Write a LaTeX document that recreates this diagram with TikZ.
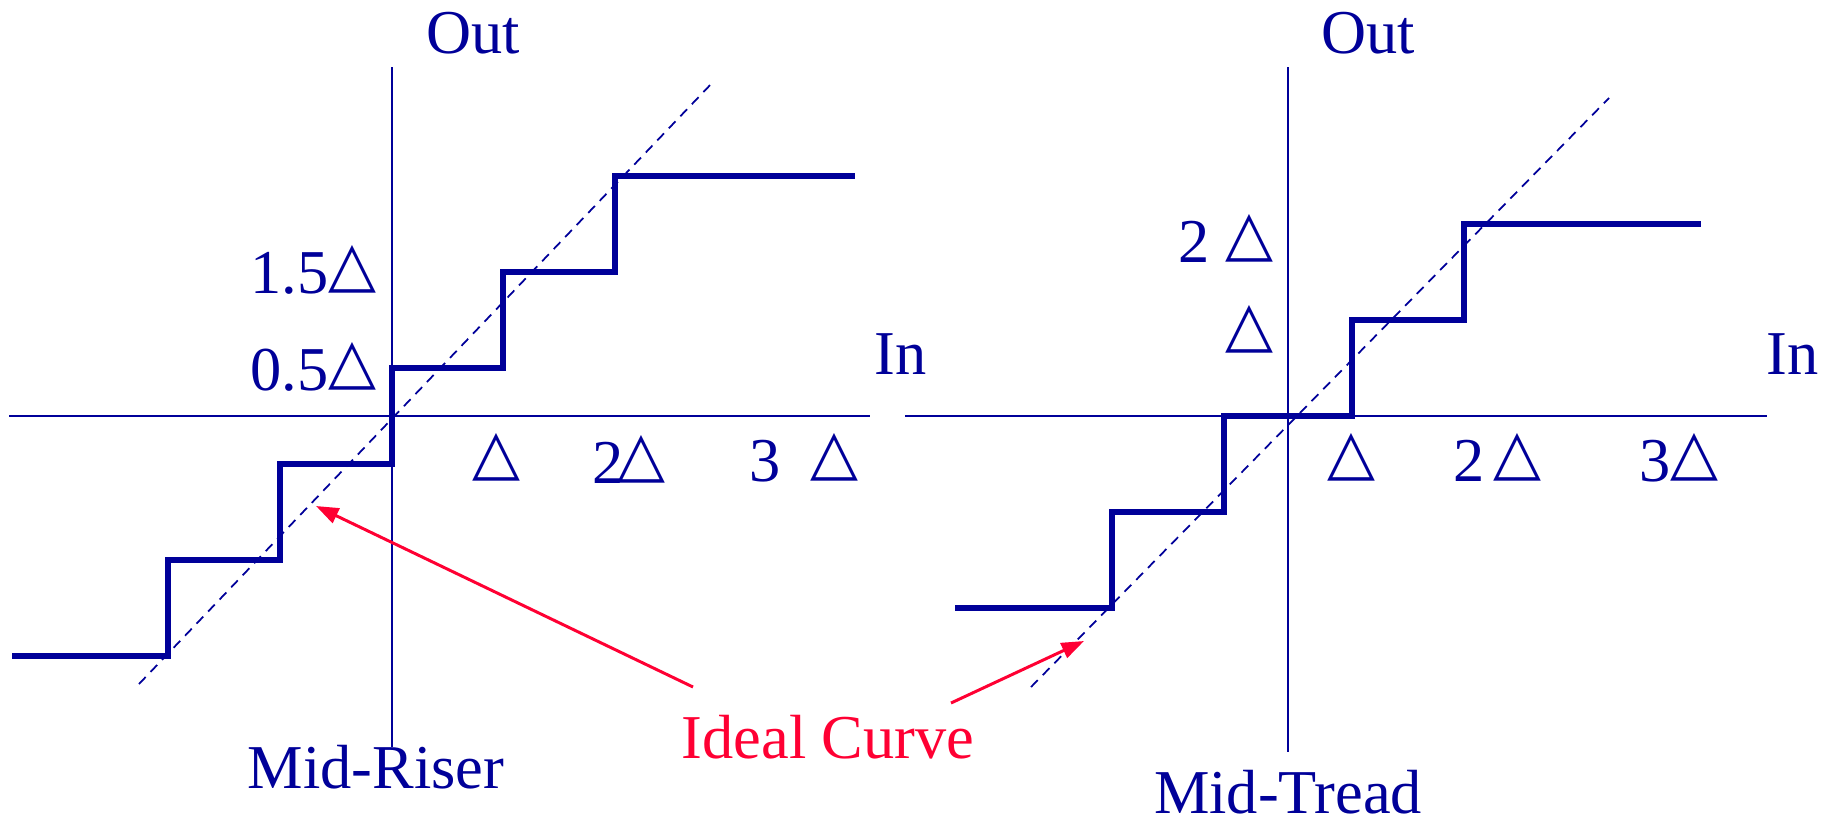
\documentclass[tikz,border=0pt]{standalone}
\usepackage{fontspec}
\setmainfont{Liberation Serif}
\newfontfamily\symfont{DejaVu Sans}
\usepackage{tikz}
\usetikzlibrary{arrows.meta}
\definecolor{navy}{RGB}{0,0,153}
\definecolor{idealred}{RGB}{255,0,51}
\newcommand{\deltri}{\raisebox{4pt}{\symfont △}}

\begin{document}
\begin{tikzpicture}[x=0.02cm, y=-0.02cm,
  lbl/.style={navy, font=\fontsize{35.5}{40}\selectfont, inner sep=0pt},
  axisline/.style={navy, line width=1.3pt},
  stair/.style={navy, line width=3.4pt},
  idealline/.style={navy, line width=1pt, dash pattern=on 5.5pt off 4pt},
  pointer/.style={idealred, line width=1.7pt, -{Triangle[length=0.45cm, width=0.32cm]}}]
\useasboundingbox (0,0) rectangle (1832,823);
% mid-riser
\draw[axisline] (9,416) -- (870,416);
\draw[axisline] (392,67) -- (392,747);
\draw[idealline] (139,684) -- (713,82);
\draw[stair] (12,656) -- (168,656) -- (168,560) -- (280,560) -- (280,464) -- (392,464) -- (392,368) -- (503,368) -- (503,272) -- (615,272) -- (615,176) -- (855,176);
\node[lbl, anchor=base] (outL) at (473,53) {Out};
\node[lbl, anchor=base west] (inL) at (874,374) {In};
\node[lbl, anchor=base east] (yL15) at (377,293) {1.5\deltri};
\node[lbl, anchor=base east] (yL05) at (377,390) {0.5\deltri};
\node[lbl, anchor=base west] (xL1) at (472,481) {\deltri};
\node[lbl, anchor=base west] (xL2) at (592,483) {2\kern-3.4pt\deltri};
\node[lbl, anchor=base west] (xL3) at (749,481) {3\hspace{17pt}\deltri};
\node[lbl, anchor=base] (riser) at (376,788) {Mid-Riser};
% mid-tread
\draw[axisline] (905,416) -- (1767,416);
\draw[axisline] (1288,67) -- (1288,752);
\draw[idealline] (1031,687) -- (1609,98);
\draw[stair] (955,608) -- (1112,608) -- (1112,512) -- (1224,512) -- (1224,416) -- (1352,416) -- (1352,320) -- (1464,320) -- (1464,224) -- (1701,224);
\node[lbl, anchor=base] (outR) at (1368,53) {Out};
\node[lbl, anchor=base west] (inR) at (1766,374) {In};
\node[lbl, anchor=base west] (yR2) at (1178,262) {2 \deltri};
\node[lbl, anchor=base west] (yR1) at (1225,353) {\deltri};
\node[lbl, anchor=base west] (xR1) at (1327,481) {\deltri};
\node[lbl, anchor=base west] (xR2) at (1453,481) {2\hspace{5pt}\deltri};
\node[lbl, anchor=base west] (xR3) at (1639,481) {3\deltri};
\node[lbl, anchor=base] (tread) at (1288,813) {Mid-Tread};
% ideal curve pointers
\node[lbl, idealred, anchor=base] (ideal) at (828,758) {Ideal Curve};
\coordinate (tailA) at (693,687);
\coordinate (headA) at (316,506);
\coordinate (tailB) at (951,703);
\coordinate (headB) at (1084,641);
\draw[pointer] (tailA) -- (headA);
\draw[pointer] (tailB) -- (headB);
\end{tikzpicture}
\end{document}
